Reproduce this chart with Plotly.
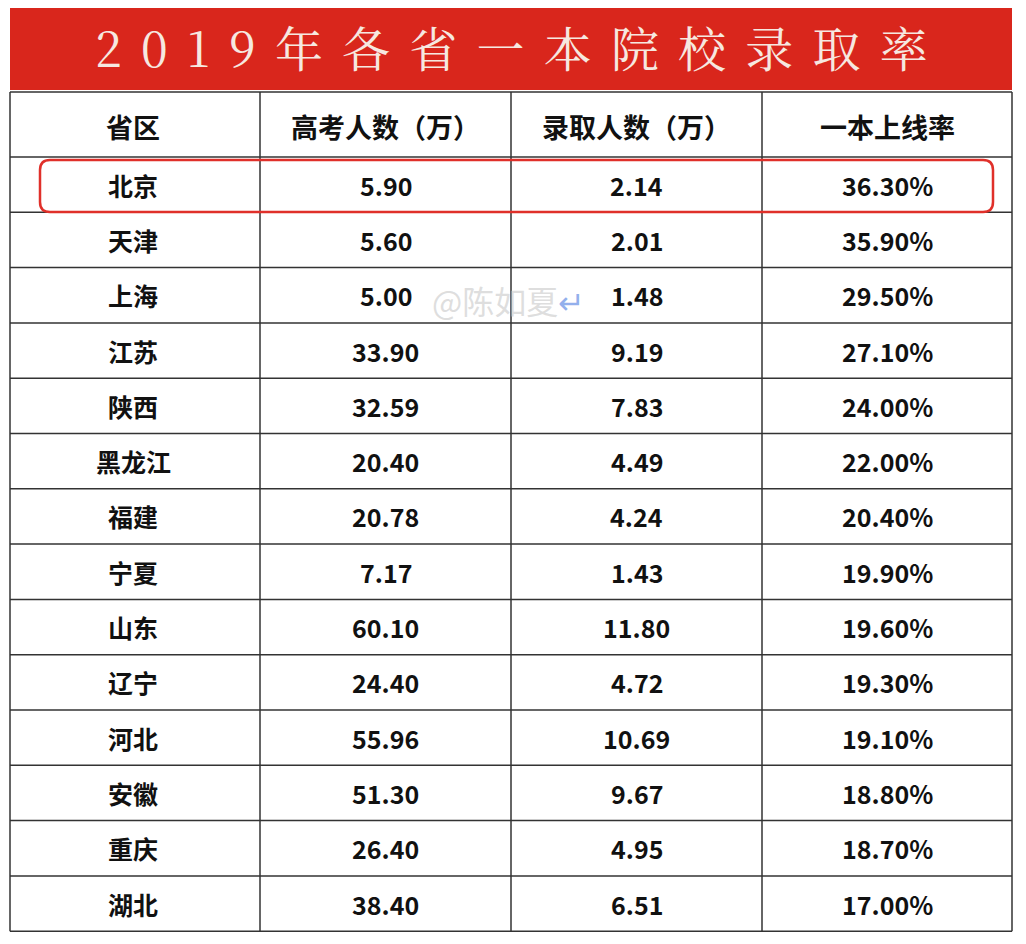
import plotly.graph_objects as go

title = "2019年各省一本院校录取率"
headers = ["省区", "高考人数（万）", "录取人数（万）", "一本上线率"]
provinces = ["北京", "天津", "上海", "江苏", "陕西", "黑龙江", "福建", "宁夏",
             "山东", "辽宁", "河北", "安徽", "重庆", "湖北"]
exam_counts = [5.90, 5.60, 5.00, 33.90, 32.59, 20.40, 20.78, 7.17,
               60.10, 24.40, 55.96, 51.30, 26.40, 38.40]
admitted = [2.14, 2.01, 1.48, 9.19, 7.83, 4.49, 4.24, 1.43,
            11.80, 4.72, 10.69, 9.67, 4.95, 6.51]
rates = [36.30, 35.90, 29.50, 27.10, 24.00, 22.00, 20.40, 19.90,
         19.60, 19.30, 19.10, 18.80, 18.70, 17.00]

col_x = [10, 260, 511, 762, 1012]
header_top, header_bot = 92, 157
row_h = 55.3
font = "Noto Sans CJK SC"

shapes = []
ann = []

# red banner
shapes.append(dict(type="rect", x0=10, x1=1012, y0=6, y1=90,
                   fillcolor="#d9261c", line=dict(width=0), layer="below"))
ann.append(dict(x=511, y=46, text="\u2009\u2009".join(title), showarrow=False,
                font=dict(family="Noto Serif CJK SC, " + font, size=48, color="#f6e8e0")))

n = len(provinces)
bottom = header_bot + row_h * n
ys = [header_top, header_bot] + [header_bot + row_h * (i + 1) for i in range(n)]
for y in ys:
    shapes.append(dict(type="line", x0=col_x[0], x1=col_x[-1], y0=y, y1=y,
                       line=dict(color="#333", width=1.5)))
for x in col_x:
    shapes.append(dict(type="line", x0=x, x1=x, y0=header_top, y1=min(bottom, 944),
                       line=dict(color="#333", width=1.5)))

centers = [(col_x[i] + col_x[i + 1]) / 2 for i in range(4)]
centers[0] -= 2
for c, h in zip(centers, headers):
    ann.append(dict(x=c, y=(header_top + header_bot) / 2 + 2, text="<b>" + h + "</b>",
                    showarrow=False, font=dict(family=font, size=27, color="#111")))

for i in range(n):
    yc = header_bot + row_h * i + row_h / 2
    vals = [provinces[i], f"{exam_counts[i]:.2f}", f"{admitted[i]:.2f}", f"{rates[i]:.2f}%"]
    for c, v in zip(centers, vals):
        ann.append(dict(x=c, y=yc, text="<b>" + v + "</b>", showarrow=False,
                        font=dict(family=font, size=25, color="#111")))

# rounded highlight box on first row
x0, x1, y0, y1, r = 40, 993, 160, 212, 10
path = (f"M{x0+r},{y0} L{x1-r},{y0} Q{x1},{y0} {x1},{y0+r} L{x1},{y1-r} Q{x1},{y1} {x1-r},{y1} "
        f"L{x0+r},{y1} Q{x0},{y1} {x0},{y1-r} L{x0},{y0+r} Q{x0},{y0} {x0+r},{y0} Z")
shapes.append(dict(type="path", path=path, line=dict(color="#e0302a", width=2.5)))
shapes.append(dict(type="line", x0=0, x1=1026, y0=5, y1=5, line=dict(color="#6f8fe8", width=1.5)))

ann.append(dict(x=508, y=300, text="@陈如夏<span style='color:#4a7be0'>↵</span>", showarrow=False,
                font=dict(family=font, size=32, color="rgba(200,200,200,0.6)")))

fig = go.Figure()
fig.add_trace(go.Scatter(x=[8, 1034], y=[8, 952], mode="markers",
                         marker=dict(opacity=0), hoverinfo="skip", showlegend=False))
fig.update_layout(width=1026, height=944, margin=dict(l=0, r=0, t=0, b=0),
                  plot_bgcolor="white", paper_bgcolor="white",
                  shapes=shapes, annotations=ann,
                  xaxis=dict(range=[8, 1034], visible=False, fixedrange=True),
                  yaxis=dict(range=[952, 8], visible=False, fixedrange=True))
fig.write_html("out.html")
